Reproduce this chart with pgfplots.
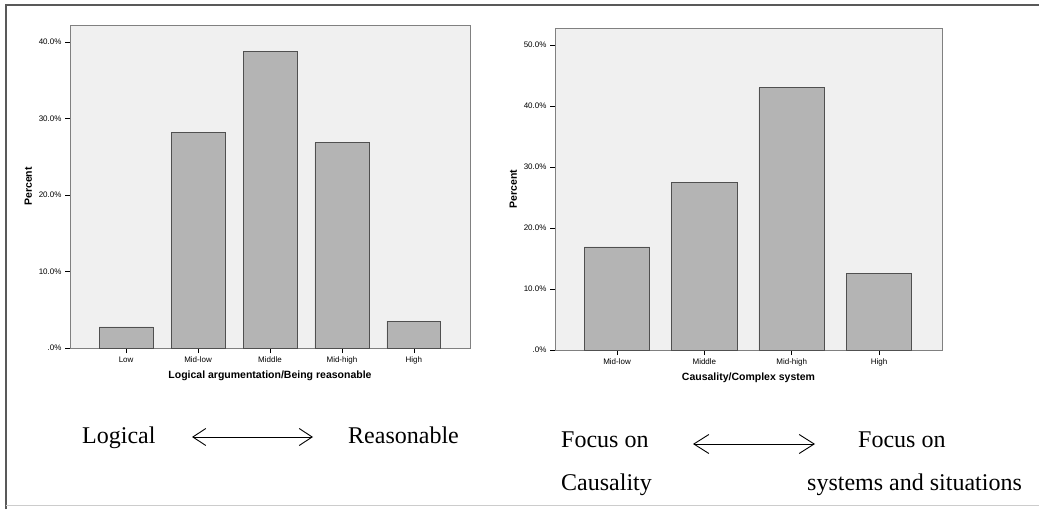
\documentclass[border=0pt]{standalone}
\usepackage{pgfplots}
\pgfplotsset{compat=1.18}
\usepackage{fontspec}
\setmainfont{Liberation Serif}
\setsansfont{Liberation Sans}
\usetikzlibrary{arrows.meta}
\definecolor{bg}{HTML}{F0F0F0}
\definecolor{barfill}{HTML}{B4B4B4}
\definecolor{baredge}{HTML}{505050}
\definecolor{axc}{HTML}{808080}
\pgfplotsset{spss/.style={
  scale only axis,
  axis background/.style={fill=bg},
  axis line style={axc, line width=0.9pt},
  ybar, bar width=0.75,
  ymin=0,
  xtick=data,
  tick style={black, line width=0.6pt},
  major tick length=5pt,
  tick align=outside,
  xtick pos=bottom, ytick pos=left,
  tick label style={font=\sffamily\fontsize{8}{9}\selectfont},
  label style={font=\sffamily\bfseries\fontsize{10.5}{12}\selectfont},
  ylabel=Percent,
}}
\begin{document}
\begin{tikzpicture}[x=1pt,y=1pt]
\path[use as bounding box] (0,0) rectangle (1039,509);
\draw[color=gray!70!black, line width=1.5pt] (6,0) -- (6,504) -- (1039,504);
\draw[color=gray!40, line width=1pt] (6,4) -- (1039,4);

\begin{axis}[spss, at={(70pt,161pt)}, anchor=south west,
  width=400pt, height=323pt,
  xmin=-0.78, xmax=4.78, ymax=42.2,
  ytick={0,10,20,30,40},
  yticklabels={.0\%,10.0\%,20.0\%,30.0\%,40.0\%},
  xticklabels={Low,Mid-low,Middle,Mid-high,High},
  xlabel={Logical argumentation/Being reasonable}]
\addplot[fill=barfill, draw=baredge, line width=0.8pt] coordinates {(0,2.75)(1,28.2)(2,38.8)(3,26.8)(4,3.5)};
\end{axis}

\begin{axis}[spss, at={(555pt,159pt)}, anchor=south west,
  width=387pt, height=322pt,
  xmin=-0.71, xmax=3.72, ymax=52.8,
  ytick={0,10,20,30,40,50},
  yticklabels={.0\%,10.0\%,20.0\%,30.0\%,40.0\%,50.0\%},
  xticklabels={Mid-low,Middle,Mid-high,High},
  xlabel={Causality/Complex system}]
\addplot[fill=barfill, draw=baredge, line width=0.8pt] coordinates {(0,16.9)(1,27.5)(2,43.0)(3,12.6)};
\end{axis}

\begin{scope}[every node/.style={font=\fontsize{24}{28}\selectfont, inner sep=0pt, anchor=base west}]
\node at (82,66) {Logical};
\node at (348,66) {Reasonable};
\draw[<->, >={Straight Barb[length=13pt, width=17pt]}, line width=0.9pt] (192,72) -- (313,72);
\node at (561,61) {Focus on};
\node at (858,61) {Focus on};
\draw[<->, >={Straight Barb[length=15pt, width=19pt]}, line width=0.9pt] (693,65) -- (815,65);
\node at (561,19) {Causality};
\node at (807,19) {systems and situations};
\end{scope}
\end{tikzpicture}
\end{document}
